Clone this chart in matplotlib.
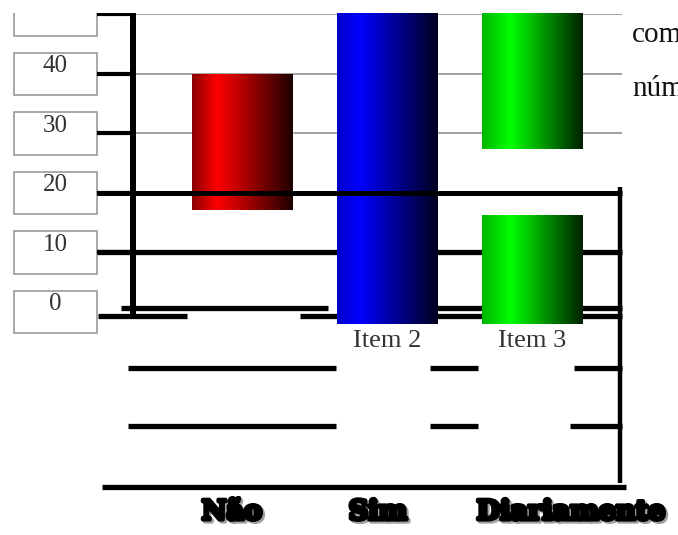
import numpy as np
import matplotlib
matplotlib.use('Agg')
import matplotlib.pyplot as plt
import matplotlib.patheffects as pe
from matplotlib.patches import Rectangle
from matplotlib.colors import LinearSegmentedColormap

# data
categories = ['Item 1', 'Item 2', 'Item 3']
seg_item = [0, 1, 2, 2]
seg_low = [17.2, -2.0, -2.0, 27.4]
seg_high = [40.0, 52.0, 16.3, 52.0]
yticks = [0, 10, 20, 30, 40, 50]
answers = ['Não', 'Sim', 'Diariamente']
side_words = ['com', 'número']

# horizontal shading of each bar (position, colour)
shades = [
    [(0.0, '#8a0000'), (0.25, '#ff0000'), (1.0, '#1e0000')],
    [(0.0, '#0000c8'), (0.22, '#0000ff'), (1.0, '#00001e')],
    [(0.0, '#00b400'), (0.28, '#00ff00'), (1.0, '#002000')],
]

fig = plt.figure(figsize=(6.78, 5.35), dpi=100)
ax = fig.add_axes([133 / 678, 211 / 535, 489 / 678, 310 / 535])
ax.set_facecolor('none')
x0, x1 = -0.7517, 2.6207
y0, y1 = -2.02, 50.08

# gray grid of the chart
ax.hlines([30, 40, 50], x0, x1, color='#9a9a9a', lw=1.3, zorder=0.5)

# black frame drawn over the chart (level, start, end)
under_lines = [
    (10, -1.0, 2.621),
    (0.67, -0.834, 0.593), (0.67, 1.345, 2.621),
    (-0.67, -0.993, -0.379), (-0.67, 0.4, 2.621),
    (-9.41, -0.786, 0.648), (-9.41, 1.297, 1.628), (-9.41, 2.29, 2.621),
    (-19.16, -0.786, 0.648), (-19.16, 1.297, 1.628), (-19.16, 2.262, 2.621),
    (-29.41, -0.966, 2.648),
]
for lev, a, b in under_lines:
    ax.hlines(lev, a, b, color='black', lw=3.8, zorder=1, clip_on=False)
ax.hlines(20, -1.0, 2.621, color='black', lw=3.6, zorder=3, clip_on=False)
ax.vlines(2.607, -28.74, 21.0, color='black', lw=3.2, zorder=3, clip_on=False)

# gradient bars
w = 0.69
bars = ax.bar(seg_item, np.array(seg_high) - np.array(seg_low), bottom=seg_low,
              width=w, color='none', edgecolor='none', zorder=2)
for i, bar in zip(seg_item, bars):
    cmap = LinearSegmentedColormap.from_list('s%d' % i, shades[i])
    grad = np.linspace(0, 1, 256).reshape(1, -1)
    im = ax.imshow(grad, cmap=cmap, aspect='auto', zorder=2,
                   extent=(bar.get_x(), bar.get_x() + w, bar.get_y(), bar.get_y() + bar.get_height()))
    im.set_clip_path(bar)

ax.set_xlim(x0, x1)
ax.set_ylim(y0, y1)

# axis
for s in ['top', 'right', 'bottom']:
    ax.spines[s].set_visible(False)
ax.spines['left'].set_linewidth(4.3)
ax.spines['left'].set_bounds(0, y1)
ax.set_yticks(yticks[1:])
ax.tick_params(axis='y', length=26, width=3, color='black', labelleft=False)
ax.set_xticks(range(len(categories)), categories, fontfamily='Liberation Serif',
              fontsize=19, color='#333333')
ax.tick_params(axis='x', length=0, pad=4)
ax.get_xticklabels()[0].set_visible(False)

# boxed value labels
for v in yticks:
    ax.add_patch(Rectangle((-1.572, v - 3.55), 0.572, 7.15, facecolor='white',
                           edgecolor='#9a9a9a', lw=1.2, clip_on=False, zorder=0.8))
    ax.text(-1.29, v + 1.3, str(v), ha='center', va='center', fontsize=18,
            fontfamily='Liberation Serif', color='#333333', clip_on=False)

# category labels under the frame
for s, xp in zip(answers, [232, 378, 571]):
    fig.text(xp / 678, 1 - 512 / 535, s, ha='center', va='center', fontsize=19.5,
             fontfamily='DejaVu Serif', fontweight='bold', color='black',
             path_effects=[pe.Stroke(linewidth=3, foreground='#a0a0a0', offset=(1.5, -1.5)),
                           pe.Stroke(linewidth=3, foreground='black'), pe.Normal()])

# words of the page text cut by the crop
for s, yp in zip(side_words, [42, 96]):
    fig.text(632 / 678, 1 - yp / 535, s, ha='left', va='baseline', fontsize=21,
             fontfamily='Liberation Serif', color='#111111')

fig.patches.append(Rectangle((0, 1 - 13 / 535), 1, 13 / 535, transform=fig.transFigure,
                             facecolor='white', edgecolor='none', zorder=10))

fig.savefig('out.png', dpi=100)
